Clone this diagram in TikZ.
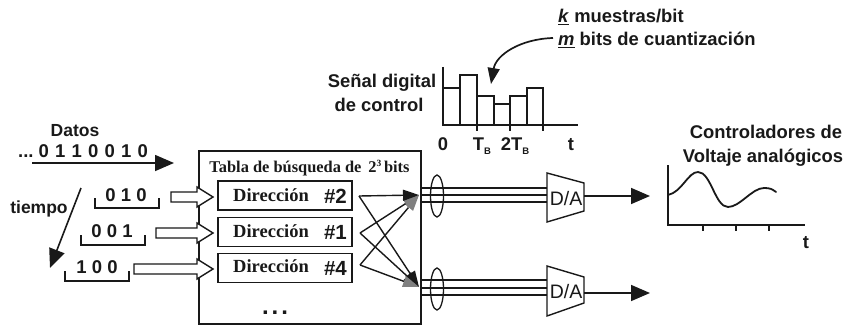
\documentclass[tikz,border=0pt]{standalone}
\usepackage{fontspec}
\setmainfont{Liberation Sans}
\newfontfamily\serifb{Liberation Serif}[Scale=1]
\usetikzlibrary{arrows.meta,calc,shapes.geometric}
\definecolor{ink}{gray}{0.1}
\newcommand{\subB}{\raisebox{-4.5pt}{\fontsize{9.5}{10}\selectfont B}}
\tikzset{
 x=1pt,y=-1pt,
 lab/.style={font=\bfseries\fontsize{18.4}{20}\selectfont,text=ink,inner sep=0pt},
 slab/.style={font=\bfseries\fontsize{17.5}{20}\selectfont,text=ink,inner sep=0pt},
 bits/.style={font=\bfseries\fontsize{18.5}{20}\selectfont,text=ink,inner sep=0pt},
 addr/.style={draw=ink,line width=1.5pt,minimum width=134pt,minimum height=29pt,inner sep=0pt},
 dirt/.style={font=\serifb\bfseries\fontsize{18.5}{20}\selectfont,text=ink,inner sep=0pt},
 numt/.style={font=\bfseries\fontsize{20.5}{22}\selectfont,text=ink,inner sep=0pt},
 line/.style={draw=ink,line width=1.6pt},
 thin line/.style={draw=ink,line width=1.3pt},
 arr/.style={draw=ink,line width=1.6pt,-{Triangle[length=19pt,width=16pt]}},
 midarr/.style={draw=ink,line width=1.4pt,-{Triangle[length=16pt,width=11pt]}},
 grayarr/.style={draw=ink,line width=1.4pt,-{Triangle[length=16pt,width=11pt,color=gray]}},
 bararrow/.style={draw=ink,line width=1.4pt,fill=white},
 dac/.style={draw=ink,line width=1.4pt,fill=white},
 ring/.style={draw=ink,line width=1.3pt,ellipse,minimum width=13pt,minimum height=42pt,inner sep=0pt},
}
\newcommand{\blockarrow}[3]{% x0, x1, y
 \draw[bararrow] (#1,#3-5) -- (#2-16,#3-5) -- (#2-16,#3-10) -- (#2,#3) -- (#2-16,#3+10) -- (#2-16,#3+5) -- (#1,#3+5) -- cycle;}
\newcommand{\brk}[3]{% x0,x1,ytop
 \draw[thin line] (#1,#3) -- (#1,#3+10) -- (#2,#3+10) -- (#2,#3);}
\begin{document}
\begin{tikzpicture}
\useasboundingbox (0,0) rectangle (845,326);
% top text
\node[lab,anchor=base west] (kt) at (558,23) {\underline{\textit{k}} muestras/bit};
\node[lab,anchor=base west] (mt) at (558,46) {\underline{\textit{m}} bits de cuantización};
% control plot
\node[lab,anchor=base] (senal) at (382,88) {Señal digital};
\node[lab,anchor=base] (control) at (379,111) {de control};
\coordinate (ctrlO) at (443,125);
\draw[line] (443,67) -- (ctrlO) -- (578,125);
\foreach \a/\b/\t in {443/460/88,460/477/75,477/494/96,494/510/104,510/527/96,527/543/88}
 \draw[line] (\a,125) -- (\a,\t) -- (\b,\t) -- (\b,125);
\foreach \a in {477,510,543} \draw[line] (\a,125) -- (\a,131);
\node[lab,anchor=base] (z0) at (443,150) {0};
\node[lab,anchor=base] (tb) at (482,150) {T\subB};
\node[lab,anchor=base] (tb2) at (515,150) {2T\subB};
\node[lab,anchor=base] (t1) at (571,150) {t};
\coordinate (curveS) at (553,38);
\coordinate (curveE) at (491,84);
\draw[draw=ink,line width=1.7pt,-{Triangle[length=16pt,width=12pt]}] (curveS) .. controls (520,39) and (496,55) .. (curveE);
% data
\node[slab,anchor=base] (datos) at (75,136) {Datos};
\node[bits,anchor=base west] (stream) at (18,157) {...\hspace{5pt}0\hspace{6.2pt}1\hspace{6.2pt}1\hspace{6.2pt}0\hspace{6.2pt}0\hspace{6.2pt}1\hspace{6.2pt}0};
\coordinate (dS) at (32,163);
\coordinate (dE) at (174,163);
\draw[arr] (dS) -- (dE);
\node[slab,anchor=base] (tiempo) at (39,213) {tiempo};
\coordinate (tS) at (81,188);
\coordinate (tE) at (50,268);
\draw[arr] (tS) -- (tE);
% bit groups
\node[bits,anchor=base] (b1) at (126,201) {0 1 0};
\node[bits,anchor=base] (b2) at (112,237) {0 0 1};
\node[bits,anchor=base] (b3) at (97,273) {1 0 0};
\brk{95}{159}{198}
\brk{81}{145}{235}
\brk{65}{129}{271}
% table
\node[draw=ink,line width=1.7pt,minimum width=222pt,minimum height=173pt,inner sep=0pt] (table) at (310,237.5) {};
\node[inner sep=0pt,anchor=base,font=\serifb\bfseries\fontsize{16.4}{18}\selectfont,text=ink] (title) at (309.5,172) {Tabla de búsqueda de \,2\raisebox{6pt}{\fontsize{9.5}{10}\selectfont 3}\,bits};
\node[addr] (a2) at (285,195.5) {};
\node[addr] (a1) at (285,232) {};
\node[addr] (a4) at (285,268) {};
\node[dirt,anchor=base west] at (233,201) {Dirección};
\node[dirt,anchor=base west] at (233,237) {Dirección};
\node[dirt,anchor=base west] at (233,272.5) {Dirección};
\node[numt,anchor=base east] at (347,203) {\#2};
\node[numt,anchor=base east] at (347,239) {\#1};
\node[numt,anchor=base east] at (347,275) {\#4};
\blockarrow{171}{213}{197}
\blockarrow{156}{213}{233}
\blockarrow{134}{213}{269}
\node[inner sep=0pt,anchor=base,font=\bfseries\fontsize{24}{24}\selectfont,text=ink] (dots) at (275,314) {.\hspace{3pt}.\hspace{3pt}.};
% crossing arrows
\coordinate (s2) at (359,196);
\coordinate (s1) at (360,233);
\coordinate (s4) at (360,265);
\coordinate (top) at (419,195);
\coordinate (bot) at (419,287);
\draw[grayarr] (s4) -- (top);
\draw[grayarr] (s1) -- (top);
\draw[midarr] (s2) -- (top);
\draw[midarr] (s2) -- (bot);
\draw[midarr] (s1) -- (bot);
\draw[grayarr] (s4) -- (bot);
% buses
\foreach \y in {188,195,202} \draw[line] (421,\y) -- (548,\y);
\foreach \y in {280,288,295} \draw[line] (421,\y) -- (548,\y);
\node[ring] (r1) at (437,196) {};
\node[ring] (r2) at (437,289) {};
% DACs
\draw[dac] (547,173) -- (584,183) -- (584,211) -- (547,222) -- cycle;
\draw[dac] (547,266) -- (584,277) -- (584,303) -- (547,316) -- cycle;
\node[inner sep=0pt,font=\fontsize{19.5}{20}\selectfont,text=ink] (da1) at (566,199) {D/A};
\node[inner sep=0pt,font=\fontsize{19.5}{20}\selectfont,text=ink] (da2) at (566,292) {D/A};
\coordinate (o1) at (650,196);
\coordinate (o2) at (650,293);
\draw[arr] (584,196) -- (o1);
\draw[arr] (584,293) -- (o2);
% analog plot
\node[lab,anchor=base] (c1) at (766,139) {Controladores de};
\node[lab,anchor=base] (c2) at (763,162) {Voltaje analógicos};
\draw[line] (668,165) -- (668,225) -- (805,225);
\foreach \a in {703,736,769} \draw[line] (\a,225) -- (\a,231);
\draw[draw=ink,line width=1.8pt,line cap=round] (668,195) .. controls (682,192) and (688,172) .. (698,172) .. controls (711,172) and (715,207) .. (728,207) .. controls (740,207) and (752,188) .. (764,188) .. controls (770,188) and (772,189) .. (776,192);
\node[lab,anchor=base] (t2) at (806,248) {t};
\end{tikzpicture}
\end{document}
